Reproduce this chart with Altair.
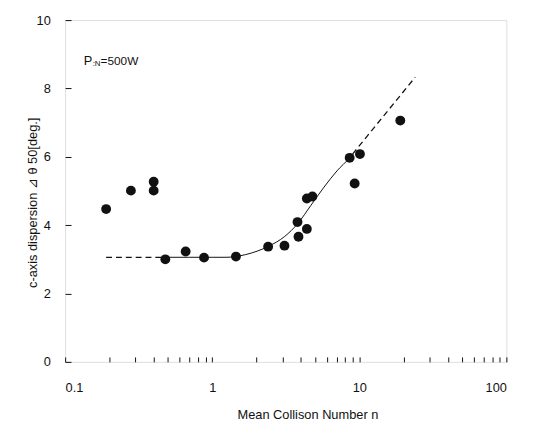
import altair as alt
import pandas as pd

# measured points
n_vals = [0.19, 0.28, 0.40, 0.40, 0.48, 0.66, 0.88, 1.45, 2.4, 3.1, 3.86, 4.4, 3.8, 4.4, 4.8, 8.6, 10.1, 9.3, 19.0]
d_vals = [4.47, 5.01, 5.27, 5.01, 3.00, 3.23, 3.05, 3.08, 3.37, 3.40, 3.66, 3.89, 4.09, 4.78, 4.84, 5.97, 6.08, 5.22, 7.06]

# fitted curve (solid part)
solid_n = [0.48, 0.7, 1.0, 1.24, 1.69, 2.41, 3.11, 3.82, 4.69, 5.75, 7.06, 8.58, 9.0]
solid_d = [3.06, 3.06, 3.06, 3.06, 3.14, 3.38, 3.67, 4.05, 4.58, 5.11, 5.59, 5.97, 6.08]
# extrapolations (dashed)
dash_left_n = [0.19, 0.48]
dash_left_d = [3.06, 3.06]
dash_right_n = [9.0, 24.0]
dash_right_d = [6.08, 8.33]

x_label_ticks = [0.1, 1, 10, 100]
x_minor_ticks = [m * 10 ** e for e in (-1, 0, 1) for m in range(1, 10)] + [100]
y_ticks = [0, 2, 4, 6, 8, 10]

pts = pd.DataFrame({"n": n_vals, "d": d_vals})
solid = pd.DataFrame({"n": solid_n, "d": solid_d})
dl = pd.DataFrame({"n": dash_left_n, "d": dash_left_d})
dr = pd.DataFrame({"n": dash_right_n, "d": dash_right_d})

W, H = 448, 347
FONT = "Liberation Sans"

xs = alt.Scale(type="log", domain=[0.1, 100], nice=False)
ys = alt.Scale(domain=[0, 10], nice=False, zero=False)

x_label_axis = alt.Axis(orient="bottom", values=x_label_ticks, format="~g", ticks=False,
                        domain=False, grid=False, labelPadding=20, labelFontSize=13,
                        labelFont=FONT, labelColor="#111", title="Mean Collison Number n",
                        titleFont=FONT, titleFontSize=13, titleFontWeight="normal",
                        titleColor="#111", titleX=246, titleY=53, titleBaseline="middle")
y_label_axis = alt.Axis(orient="left", values=y_ticks, ticks=False, domain=False, grid=False,
                        labelPadding=15, labelFontSize=13, labelFont=FONT, labelColor="#111",
                        title="c-axis dispersion  ⊿ θ 50[deg.]", titleFont=FONT, titleFontSize=13,
                        titleFontWeight="normal", titleColor="#111", titleX=-33, titleY=185,
                        titleBaseline="middle", titleAlign="center")

x_tick_axis = alt.Axis(orient="top", offset=-H, values=x_minor_ticks, labels=False, domain=False,
                       grid=False, tickSize=5, tickColor="#111", tickWidth=1, title=None)
y_tick_axis = alt.Axis(orient="right", offset=-W, values=y_ticks, labels=False, domain=False,
                       grid=False, tickSize=6, tickColor="#111", tickWidth=1, title=None)

points = alt.Chart(pts).mark_circle(size=100, color="#111", opacity=1).encode(
    x=alt.X("n:Q", scale=xs, axis=x_label_axis),
    y=alt.Y("d:Q", scale=ys, axis=y_label_axis),
)
solid_line = alt.Chart(solid).mark_line(color="#111", strokeWidth=1, interpolate="monotone").encode(
    x=alt.X("n:Q", scale=xs, axis=x_tick_axis),
    y=alt.Y("d:Q", scale=ys, axis=y_tick_axis),
)
left_dash = alt.Chart(dl).mark_line(color="#111", strokeWidth=1.3, strokeDash=[6, 4]).encode(
    x=alt.X("n:Q", scale=xs, axis=None),
    y=alt.Y("d:Q", scale=ys, axis=None),
)
right_dash = alt.Chart(dr).mark_line(color="#111", strokeWidth=1.3, strokeDash=[6, 4]).encode(
    x=alt.X("n:Q", scale=xs, axis=None),
    y=alt.Y("d:Q", scale=ys, axis=None),
)

ann_x = [0.134]
ann_y = [8.7]
ann = pd.DataFrame({"n": ann_x, "d": ann_y})
p_txt = alt.Chart(ann).mark_text(text="P", align="left", baseline="alphabetic", font=FONT,
                                 fontSize=13, color="#111").encode(
    x=alt.X("n:Q", scale=xs, axis=None), y=alt.Y("d:Q", scale=ys, axis=None))
sub_txt = alt.Chart(ann).mark_text(text=":N", align="left", baseline="alphabetic", font=FONT,
                                   fontSize=8, dx=9, dy=1, color="#111").encode(
    x=alt.X("n:Q", scale=xs, axis=None), y=alt.Y("d:Q", scale=ys, axis=None))
rest_txt = alt.Chart(ann).mark_text(text="=500W", align="left", baseline="alphabetic", font=FONT,
                                    fontSize=12, dx=17, color="#111").encode(
    x=alt.X("n:Q", scale=xs, axis=None), y=alt.Y("d:Q", scale=ys, axis=None))

chart = alt.layer(points, solid_line, left_dash, right_dash, p_txt, sub_txt, rest_txt).resolve_axis(
    x="independent", y="independent"
).properties(
    width=W, height=H,
    autosize=alt.AutoSizeParams(type="none"),
    padding={"left": 58, "top": 9, "right": 25, "bottom": 73},
).configure_view(stroke="#111", strokeWidth=1.5).configure(background="white")

chart.save("out.html", embed_options={"renderer": "svg", "actions": False})
